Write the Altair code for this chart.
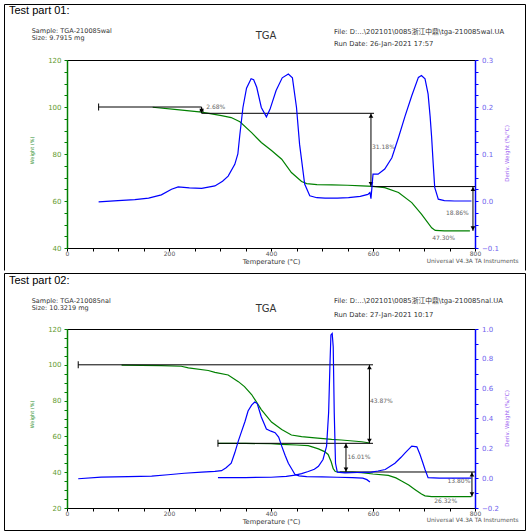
import altair as alt
import pandas as pd

# ---------------- Test part 01 ----------------
P1_WT = [168, 211, 264, 303, 322, 339, 362, 381, 401, 421, 440, 460, 470, 490, 519, 550, 578, 600, 623, 650, 676, 695, 715, 722, 740, 790]
P1_W = [99.9, 99.0, 97.8, 96.3, 95.5, 93.7, 89.1, 84.9, 81.5, 77.8, 72.1, 68.3, 67.4, 67.0, 66.9, 66.7, 66.4, 66.2, 65.7, 63.6, 59.3, 54.4, 48.6, 47.5, 47.3, 47.3]
P1_DT = [62, 100, 133, 160, 185, 205, 218, 240, 264, 290, 305, 316, 329, 335, 339, 345, 352, 361, 366, 372,
         381, 391, 398, 410, 422, 434, 442, 450, 456, 462, 466, 476, 490, 506, 530, 552, 575, 590, 594, 596,
         598, 600, 610, 623, 637, 650, 663, 676, 689, 695, 702, 708, 712, 715, 718, 721, 728, 740, 760, 793]
P1_D = [-0.002, 0.001, 0.003, 0.006, 0.013, 0.025, 0.030, 0.028, 0.027, 0.032, 0.042, 0.053, 0.078, 0.100, 0.142, 0.199, 0.240, 0.260, 0.258, 0.242,
        0.199, 0.179, 0.195, 0.235, 0.262, 0.270, 0.262, 0.199, 0.121, 0.070, 0.036, 0.011, 0.007, 0.006, 0.006, 0.007, 0.010, 0.014, 0.018, 0.005,
        0.030, 0.057, 0.057, 0.068, 0.092, 0.135, 0.181, 0.224, 0.263, 0.267, 0.260, 0.228, 0.180, 0.135, 0.080, 0.029, 0.004, 0.001, 0.000, 0.000]
P1_HL_T1 = [62, 264, 596]
P1_HL_T2 = [264, 602, 800]
P1_HL_W = [100.0, 97.32, 66.14]
P1_VL_T = [264, 596, 796]
P1_VL_TOP = [100.0, 97.32, 66.14]
P1_VL_BOT = [97.32, 66.14, 47.28]
P1_CAP_T = [62]
P1_CAP_W = [100.0]
P1_PCT = ["2.68%", "31.18%", "18.86%", "47.30%"]
P1_PCT_T = [273, 598, 743, 716]
P1_PCT_W = [100.0, 83.1, 55.0, 44.1]

# ---------------- Test part 02 ----------------
P2_WT_A = [107, 185, 224, 238, 277, 290, 316, 336, 348, 362, 381, 401, 421, 440, 460, 486, 519, 538, 578, 594]
P2_W_A = [99.8, 99.5, 99.2, 98.3, 96.8, 95.8, 94.3, 90.6, 87.8, 83.4, 75.0, 68.0, 63.8, 60.8, 59.9, 59.2, 58.3, 58.0, 57.0, 56.3]
P2_WT_B = [296, 350, 400, 421, 450, 473, 493, 505, 512, 518, 522, 526, 532, 560, 577, 600, 630, 645, 656, 670, 682, 695, 702, 715, 735, 793]
P2_W_B = [56.1, 56.1, 55.9, 55.6, 55.2, 54.8, 53.0, 51.5, 49.9, 45.8, 42.0, 40.4, 40.1, 40.0, 39.8, 39.0, 38.2, 36.8, 35.1, 32.8, 30.4, 27.8, 26.8, 26.4, 26.3, 26.3]
P2_DT_A = [22, 67, 120, 166, 198, 230, 264, 290, 303, 312, 322, 329, 336, 342, 349, 355, 362, 368, 373, 381,
           391, 400, 408, 415, 421, 428, 434, 441, 447, 455, 470, 500, 530, 560, 580, 588, 594]
P2_D_A = [-0.004, 0.007, 0.010, 0.014, 0.023, 0.033, 0.041, 0.045, 0.050, 0.070, 0.100, 0.170, 0.250, 0.310, 0.380, 0.450, 0.490, 0.510, 0.500, 0.410,
          0.330, 0.315, 0.305, 0.275, 0.215, 0.150, 0.100, 0.060, 0.025, 0.015, 0.010, 0.008, 0.006, 0.004, 0.000, -0.010, -0.025]
P2_DT_B = [296, 350, 400, 430, 447, 460, 473, 485, 493, 502, 509, 513, 515.5, 517.5, 520, 522, 524, 526.5, 530, 545,
           570, 597, 610, 624, 643, 655, 663, 676, 686, 692, 697, 702, 708, 730, 760, 793]
P2_D_B = [0.003, 0.004, 0.006, 0.012, 0.020, 0.030, 0.045, 0.060, 0.080, 0.125, 0.215, 0.440, 0.750, 0.960, 0.970, 0.880, 0.440, 0.100, 0.040, 0.035,
          0.038, 0.040, 0.048, 0.058, 0.100, 0.140, 0.170, 0.215, 0.210, 0.160, 0.110, 0.058, 0.003, 0.000, 0.000, 0.000]
P2_HL_T1 = [22, 296, 535]
P2_HL_T2 = [600, 600, 800]
P2_HL_W = [100.0, 56.13, 40.12]
P2_VL_T = [593, 547, 794]
P2_VL_TOP = [100.0, 56.13, 40.12]
P2_VL_BOT = [56.13, 40.12, 26.32]
P2_CAP_T = [22, 296]
P2_CAP_W = [100.0, 56.13]
P2_PCT = ["43.87%", "16.01%", "13.80%", "26.32%"]
P2_PCT_T = [594, 550, 746, 720]
P2_PCT_W = [79.6, 48.5, 34.9, 23.7]

X_TICKS = list(range(0, 801, 50))

FONT = "DejaVu Sans"
CJK = "DejaVu Sans, Noto Sans CJK SC"
GREEN = "#008000"
BLUE = "#0000ff"
W_LABEL = "#5f9a2e"
W_TITLE = "#2f8f2f"
D_LABEL = "#6f62ee"
D_TITLE = "#9a5cf0"
PW = 408


def x_enc(field):
    return alt.X(
        f"{field}:Q",
        scale=alt.Scale(domain=[0, 800], nice=False, zero=False),
        axis=alt.Axis(
            values=X_TICKS, format="d",
            labelExpr="datum.value % 200 == 0 ? datum.label : ''",
            grid=False, domainColor="black", domainWidth=1, tickColor="black", tickSize=3,
            labelFont=FONT, labelFontSize=6, labelColor="#555555", labelPadding=2,
            labelBaseline="middle", labelFlush=False, labelOverlap=False,
            title="Temperature (°C)", titleFont=FONT, titleFontSize=6.7, titleFontWeight="normal",
            titleColor="#333333", titleY=13.5, titleBaseline="middle",
        ),
    )


def w_axis(dom, H, ty):
    return alt.Axis(
        values=list(range(dom[0], dom[1] + 1, 5)), format="d",
        labelExpr="datum.value % 20 == 0 ? datum.label : ''",
        orient="left", grid=False, domainColor=GREEN, domainWidth=1.5, tickColor=GREEN, tickSize=3,
        labelFont=FONT, labelFontSize=7, labelColor=W_LABEL, labelPadding=3, labelOverlap=False, labelFlush=False,
        title="Weight (%)", titleFont=FONT, titleFontSize=5, titleFontWeight="normal", titleColor=W_TITLE,
        titleAngle=270, titleX=-36, titleY=ty, titleAlign="center", titleBaseline="middle",
    )


def d_axis(vals, mult, ty):
    return alt.Axis(
        values=vals, orient="right",
        labelExpr=f"abs(datum.value*{mult} - round(datum.value*{mult})) < 0.001 ? format(datum.value, '.1f') : ''",
        grid=False, domainColor=BLUE, domainWidth=1.5, tickColor=BLUE, tickSize=3,
        labelFont=FONT, labelFontSize=7, labelColor=D_LABEL, labelPadding=3.5, labelOverlap=False, labelFlush=False,
        title="Deriv. Weight (%/°C)", titleFont=FONT, titleFontSize=5.5, titleFontWeight="normal", titleColor=D_TITLE,
        titleAngle=270, titleX=31, titleY=ty, titleAlign="center", titleBaseline="middle",
    )


def one():
    return alt.Data(values=[{"a": 1}])


def txt(s, x, y, size=6.5, font=CJK, color="#333333", align="left"):
    return alt.Chart(one()).mark_text(
        text=s, align=align, baseline="middle", font=font, fontSize=size, color=color
    ).encode(x=alt.value(x), y=alt.value(y))


def hrule(x1, x2, y):
    return alt.Chart(one()).mark_rule(color="black", strokeWidth=1).encode(
        x=alt.value(x1), x2=alt.value(x2), y=alt.value(y))


def vrule(x, y1, y2):
    return alt.Chart(one()).mark_rule(color="black", strokeWidth=1).encode(
        x=alt.value(x), y=alt.value(y1), y2=alt.value(y2))


def build_panel(H, wdom, ddom, dvals, dmult, wseries, dseries, hl, vl, caps, pcts, decor, wty, dty):
    wscale = alt.Scale(domain=list(wdom), nice=False, zero=False)
    wax = w_axis(wdom, H, wty)

    def wy(field):
        return alt.Y(f"{field}:Q", scale=wscale, axis=wax)

    wrows = []
    for name, ts, ws in wseries:
        wrows += [{"T": t, "W": w, "S": name} for t, w in zip(ts, ws)]
    drows = []
    for name, ts, ds in dseries:
        drows += [{"T": t, "D": d, "S": name} for t, d in zip(ts, ds)]

    green = alt.Chart(pd.DataFrame(wrows)).mark_line(color=GREEN, strokeWidth=1.2).encode(
        x=x_enc("T"), y=wy("W"), detail="S:N")

    hl_df = pd.DataFrame({"T1": hl[0], "T2": hl[1], "W": hl[2]})
    hlines = alt.Chart(hl_df).mark_rule(color="black", strokeWidth=1).encode(
        x=x_enc("T1"), x2="T2", y=wy("W"))

    vl_df = pd.DataFrame({"T": vl[0], "W1": vl[1], "W2": vl[2]})
    vlines = alt.Chart(vl_df).mark_rule(color="black", strokeWidth=1).encode(
        x=x_enc("T"), y=wy("W1"), y2="W2")

    up_df = pd.DataFrame({"T": vl[0], "W": vl[1]})
    dn_df = pd.DataFrame({"T": vl[0], "W": vl[2]})
    ups = alt.Chart(up_df).mark_point(shape="triangle-up", filled=True, size=22, color="black",
                                      opacity=1, yOffset=2.5).encode(x=x_enc("T"), y=wy("W"))
    dns = alt.Chart(dn_df).mark_point(shape="triangle-down", filled=True, size=22, color="black",
                                      opacity=1, yOffset=-2.5).encode(x=x_enc("T"), y=wy("W"))

    cap_df = pd.DataFrame({"T": caps[0], "W": caps[1]})
    capm = alt.Chart(cap_df).mark_tick(orient="vertical", size=7, thickness=1, color="black",
                                       opacity=1).encode(x=x_enc("T"), y=wy("W"))

    pct_df = pd.DataFrame({"txt": pcts[0], "T": pcts[1], "W": pcts[2]})
    pctm = alt.Chart(pct_df).mark_text(align="left", baseline="middle", font=FONT, fontSize=6,
                                       color="#666666").encode(x=x_enc("T"), y=wy("W"), text="txt:N")

    wgroup = alt.layer(green, hlines, vlines, capm, ups, dns, pctm)

    dscale = alt.Scale(domain=list(ddom), nice=False, zero=False)
    blue = alt.Chart(pd.DataFrame(drows)).mark_line(color=BLUE, strokeWidth=1.2).encode(
        x=x_enc("T"),
        y=alt.Y("D:Q", scale=dscale, axis=d_axis(dvals, dmult, dty)),
        detail="S:N")

    return alt.layer(wgroup, blue, *decor).resolve_scale(y="independent").properties(width=PW, height=H)


H1 = 188
H2 = 179
L, R = -62.5, PW + 50.5

decor1 = [
    hrule(L, R, -55.5), vrule(L, -55.5, H1 + 22.5), vrule(R, -55.5, H1 + 22.5),
    txt("Test part 01:", -58, -49, 11, "Liberation Sans", "black"),
    txt("Sample: TGA-210085wal", -35.3, -29),
    txt("Size:  9.7915 mg", -35.3, -21.8),
    txt("TGA", 199, -23.7, 10, align="center"),
    txt("File: D:...\\202101\\0085浙江中鼎\\tga-210085wal.UA", 267, -28.5, 6.8),
    txt("Run Date: 26-Jan-2021 17:57", 267, -15.7, 6.8),
    txt("Universal V4.3A TA Instruments", 359.7, 201, 5.8, FONT, "#555555"),
]

decor2 = [
    hrule(L, R, -55.5), vrule(L, -55.5, H2 + 22.5), vrule(R, -55.5, H2 + 22.5), hrule(L, R, H2 + 22.5),
    txt("Test part 02:", -58, -48, 11, "Liberation Sans", "black"),
    txt("Sample: TGA-210085nal", -35.3, -28.5),
    txt("Size:  10.3219 mg", -35.3, -21.3),
    txt("TGA", 199, -20, 10, align="center"),
    txt("File: D:...\\202101\\0085浙江中鼎\\tga-210085nal.UA", 267, -28, 6.8),
    txt("Run Date: 27-Jan-2021 10:17", 267, -14, 6.8),
    txt("Universal V4.3A TA Instruments", 359.7, 191.3, 5.8, FONT, "#555555"),
]

p1 = build_panel(
    H1, (40, 120), (-0.1, 0.3), [round(-0.1 + 0.025 * i, 3) for i in range(17)], 10,
    [("a", P1_WT, P1_W)], [("a", P1_DT, P1_D)],
    (P1_HL_T1, P1_HL_T2, P1_HL_W), (P1_VL_T, P1_VL_TOP, P1_VL_BOT), (P1_CAP_T, P1_CAP_W),
    (P1_PCT, P1_PCT_T, P1_PCT_W), decor1, 90, 93,
)

p2 = build_panel(
    H2, (20, 120), (-0.2, 1.0), [round(-0.2 + 0.1 * i, 2) for i in range(13)], 5,
    [("a", P2_WT_A, P2_W_A), ("b", P2_WT_B, P2_W_B)], [("a", P2_DT_A, P2_D_A), ("b", P2_DT_B, P2_D_B)],
    (P2_HL_T1, P2_HL_T2, P2_HL_W), (P2_VL_T, P2_VL_TOP, P2_VL_BOT), (P2_CAP_T, P2_CAP_W),
    (P2_PCT, P2_PCT_T, P2_PCT_W), decor2, 85, 89,
)

chart = alt.vconcat(p1, p2, spacing=0).properties(
    padding={"left": 3, "top": 3, "right": 3, "bottom": 3},
    background="white",
).configure_view(stroke="black", strokeWidth=1)

chart.save("out.html", embed_options={"renderer": "svg", "actions": False})
